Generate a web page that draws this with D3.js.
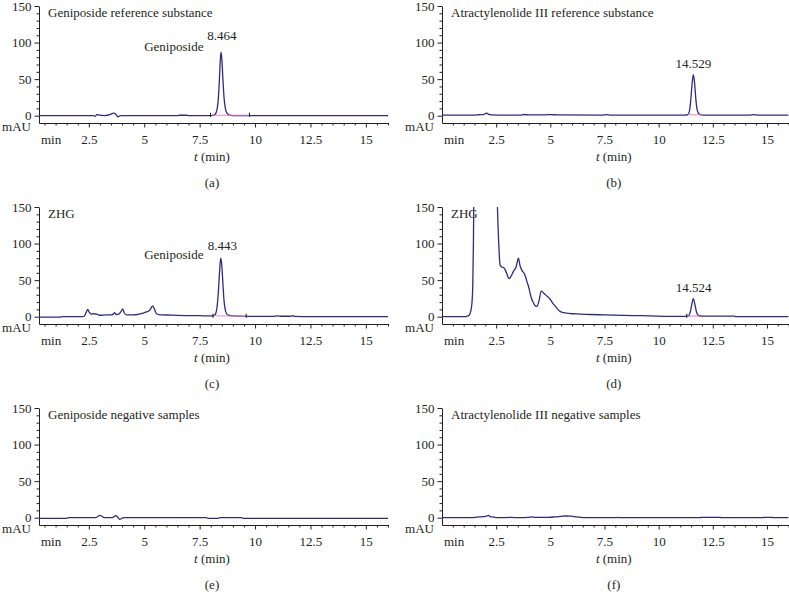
<!DOCTYPE html>
<html>
<head>
<meta charset="utf-8">
<script src="https://cdn.jsdelivr.net/npm/d3@7"></script>
<style>
body{margin:0;background:#fff;}
</style>
</head>
<body>
<script>
// chromatogram traces, [time (min), signal (mAU)]
var geniRef = [[0.25,0],[2.7,0],[2.78,-1],[2.86,1.5],[2.95,1.2],[3.05,0.3],[3.25,0.2],[3.45,1.5],[3.62,3.5],[3.72,2],[3.8,-1.5],[3.88,-0.5],[3.95,0],
  [6.5,0],[6.6,0.6],[6.9,0.6],[7.0,0],[7.9,0],[8.1,0.3],[8.2,2],[8.28,8],[8.34,22],[8.39,48],[8.43,75],[8.465,87],[8.5,78],[8.55,50],[8.6,25],
  [8.66,10],[8.72,4],[8.8,1.5],[8.9,0.5],[9.1,0.2],[9.7,0],[16,0]];

var atrRef = [[0,0.8],[1.5,0.8],[1.7,1.3],[1.9,1.5],[2.0,2.8],[2.07,3.5],[2.15,1.8],[2.3,1.2],[2.8,0.8],[3.6,0.9],[3.8,1.6],[4.0,1.0],[4.8,1.2],
  [5.0,1.5],[5.4,1.0],[7.4,0.9],[7.6,1.4],[7.8,0.9],[11.2,0.8],[11.35,1.5],[11.42,6],[11.48,20],[11.54,42],[11.6,56],[11.66,45],[11.72,22],
  [11.78,8],[11.85,3],[11.95,1.2],[12.2,0.8],[14.2,0.8],[14.4,1.5],[14.6,0.8],[16,0.7]];

var zhgGeni = [[0.25,-0.5],[1.2,-0.5],[1.3,0],[2.2,0.2],[2.3,1],[2.38,6],[2.45,10],[2.52,6],[2.6,3.5],[2.7,4],[2.85,3.5],[3.0,2],[3.3,2.5],
  [3.5,2.5],[3.6,3.5],[3.66,5.5],[3.72,3],[3.85,3.5],[3.95,7],[4.03,10.5],[4.1,5],[4.2,2.5],[4.5,2.5],[4.7,3],[4.9,4.6],[5.1,6.5],[5.25,9],
  [5.38,14.7],[5.45,11],[5.55,4],[5.7,2.5],[6.0,2.3],[6.5,1.8],[7.5,1.4],[8.0,1],[8.1,1.2],[8.2,3],[8.28,12],[8.34,32],[8.4,62],[8.45,80],
  [8.5,70],[8.55,45],[8.6,22],[8.66,9],[8.72,4],[8.8,2],[9.0,1],[9.6,0.5],[10.8,0.5],[11.0,1.2],[11.2,0.6],[11.6,0.6],[11.7,1.3],[11.8,0.5],
  [12.5,0],[16,0]];

var zhgAtr = [[0,0],[1.05,0],[1.14,0.5],[1.25,2],[1.33,8],[1.38,18],[1.42,42],[1.45,100],[1.48,200],[1.55,500],[1.6,900],[2.4,700],[2.5,250],
  [2.56,150],[2.62,100],[2.68,71],[2.76,68],[2.86,67],[2.95,62],[3.1,52],[3.2,56],[3.3,62],[3.42,68],[3.53,80],[3.6,70],[3.68,64],[3.83,57],
  [3.92,48],[3.99,42],[4.1,28],[4.2,20],[4.3,15],[4.38,14],[4.48,22],[4.58,35],[4.7,32],[4.81,29],[4.99,24],[5.1,19],[5.22,14.7],[5.35,10],
  [5.45,7.3],[5.6,5.5],[5.76,5],[6.0,4],[6.38,3.6],[6.84,3],[7.5,2.5],[8.38,1.8],[9.2,1.4],[9.92,0.9],[11.15,0.5],[11.35,0.8],[11.45,5],
  [11.52,15],[11.6,24.5],[11.68,16],[11.75,6],[11.85,1.5],[12,0.8],[13.5,0.7],[13.55,0],[16,0]];

var geniNeg = [[0.25,-0.9],[1.5,-0.9],[1.56,0],[2.8,0],[2.9,1.5],[3.0,3.2],[3.1,1.8],[3.2,0],[3.55,0],[3.65,1.8],[3.72,2.7],[3.8,1],[3.9,-2.3],
  [4.0,-0.6],[4.1,0],[7.8,0],[7.87,-0.9],[8.35,-0.9],[8.4,0],[9.4,0],[9.45,-0.9],[16,-0.9]];

var atrNeg = [[0,0],[1.4,0],[1.6,0.8],[1.9,1.4],[2.05,2],[2.14,3.2],[2.22,1.5],[2.35,1],[2.55,0],[3.2,0.3],[3.5,0],[4.0,0.5],[4.14,1],[4.3,0.4],
  [4.9,0.5],[5.2,1],[5.5,1.8],[5.7,2.3],[5.95,2],[6.2,1],[6.53,0],[8.0,0],[8.1,0.3],[8.2,0],[11.9,0],[12.0,0.5],[12.8,0.5],[12.9,0],
  [14.8,0],[14.9,0.5],[15.2,0.5],[15.3,0],[16,0]];

// integration baselines (pink) and start/end marks
var baseA = [[8.07,0.6],[9.74,0.6]];
var baseB = [[11.35,1.2],[12.0,1.2]];
var baseC = [[8.1,1.2],[9.6,0.6]];
var baseD = [[11.3,0.8],[11.92,0.8]];
var marksA = [7.99, 9.75];
var marksC = [8.1, 9.6];
var marksD = [11.3];

// peak annotations: [time, signal, text]
var labelsA = [[8.5,103,"8.464"]];
var labelsB = [[11.6,65,"14.529"]];
var labelsC = [[8.52,91,"8.443"]];
var labelsD = [[11.62,33.5,"14.524"]];
var nameA = [[7.67,88,"Geniposide"]];
var nameC = [[7.67,78.5,"Geniposide"]];

var titles = ["Geniposide reference substance","Atractylenolide III reference substance","ZHG","ZHG",
  "Geniposide negative samples","Atractylenolide III negative samples"];
var captions = ["(a)","(b)","(c)","(d)","(e)","(f)"];
var xMajor = [2.5,5,7.5,10,12.5,15];
var xMinor = d3.range(0.5,16.01,0.5).filter(function(d){return xMajor.indexOf(d)<0;});
var yMajor = [0,50,100,150];
var yMinor = d3.range(10,150,10).filter(function(d){return yMajor.indexOf(d)<0;});

var W = 789, H = 602;
var serif = "'Liberation Serif','DejaVu Serif',serif";
var cols = [{x0:39, x1:388, t0:0.25},{x0:442, x1:788.6, t0:0}];
var rowTop = [6, 207, 408];
var plotH = 117;
var lineColor = "#2e2b82", pink = "#e27ac0", ink = "#231f20";

var panels = [
  {data:geniRef, base:baseA, marks:marksA, labels:labelsA.concat(nameA), anchors:["middle","end"]},
  {data:atrRef, base:baseB, marks:[], labels:labelsB, anchors:["middle"]},
  {data:zhgGeni, base:baseC, marks:marksC, labels:labelsC.concat(nameC), anchors:["middle","end"]},
  {data:zhgAtr, base:baseD, marks:marksD, labels:labelsD, anchors:["middle"]},
  {data:geniNeg, base:null, marks:[], labels:[], anchors:[]},
  {data:atrNeg, base:null, marks:[], labels:[], anchors:[]}
];

var svg = d3.select("body").append("svg").attr("width",W).attr("height",H)
  .attr("font-family",serif).attr("font-size",13);
var defs = svg.append("defs");

panels.forEach(function(p,i){
  var c = cols[i%2], top = rowTop[Math.floor(i/2)], bottom = top+plotH;
  var x = d3.scaleLinear().domain([c.t0,16]).range([c.x0,c.x1]);
  var y = d3.scaleLinear().domain([-10,150]).range([bottom,top]);
  var g = svg.append("g");

  defs.append("clipPath").attr("id","clip"+i).append("rect")
    .attr("x",c.x0).attr("y",top).attr("width",c.x1-c.x0).attr("height",plotH);

  // x axis
  g.append("g").attr("transform","translate(0,"+bottom+")")
    .call(d3.axisBottom(x).tickValues(xMinor).tickSize(2.5).tickFormat(""))
    .call(function(s){s.select(".domain").remove();});
  g.append("g").attr("transform","translate(0,"+bottom+")")
    .call(d3.axisBottom(x).tickValues(xMajor).tickSize(4.5).tickSizeOuter(0).tickPadding(7).tickFormat(function(d){return d;}));
  // y axis
  g.append("g").attr("transform","translate("+c.x0+",0)")
    .call(d3.axisLeft(y).tickValues(yMinor).tickSize(2.5).tickFormat(""))
    .call(function(s){s.select(".domain").remove();});
  g.append("g").attr("transform","translate("+c.x0+",0)")
    .call(d3.axisLeft(y).tickValues(yMajor).tickSize(4.5).tickSizeOuter(0).tickPadding(3));
  g.selectAll("g").attr("font-family",serif).attr("font-size",13);
  g.selectAll(".tick line, .domain").attr("stroke",ink);
  g.selectAll(".tick text").attr("fill",ink);

  g.append("text").attr("x",c.x0-8).attr("y",y(0)+15.5).attr("text-anchor","end").attr("fill",ink).text("mAU");
  g.append("text").attr("x",c.x0+2).attr("y",bottom+21).attr("fill",ink).text("min");

  var cx = (c.x0+c.x1)/2-1.5;
  var at = g.append("text").attr("x",cx).attr("y",bottom+37.5).attr("text-anchor","middle").attr("fill",ink);
  at.append("tspan").attr("font-style","italic").text("t");
  at.append("tspan").text(" (min)");
  g.append("text").attr("x",cx).attr("y",bottom+63.5).attr("text-anchor","middle").attr("fill",ink).text(captions[i]);

  g.append("text").attr("x",c.x0+9).attr("y",top+10.5).attr("fill",ink).text(titles[i]);

  var plot = g.append("g").attr("clip-path","url(#clip"+i+")");
  var line = d3.line().x(function(d){return x(d[0]);}).y(function(d){return y(d[1]);}).curve(d3.curveMonotoneX);
  plot.append("path").datum(p.data).attr("d",line)
    .attr("fill","none").attr("stroke",lineColor).attr("stroke-width",1.3);
  if(p.base){
    plot.append("path").datum(p.base).attr("d",d3.line().x(function(d){return x(d[0]);}).y(function(d){return y(d[1]);}))
      .attr("fill","none").attr("stroke",pink).attr("stroke-width",1.1).attr("opacity",0.9);
  }
  plot.selectAll(".mark").data(p.marks).enter().append("line").attr("class","mark")
    .attr("x1",function(d){return x(d);}).attr("x2",function(d){return x(d);})
    .attr("y1",y(4)).attr("y2",y(-1.5)).attr("stroke","#111").attr("stroke-width",1);

  g.selectAll(".lab").data(p.labels).enter().append("text").attr("class","lab")
    .attr("x",function(d){return x(d[0]);}).attr("y",function(d){return y(d[1]);})
    .attr("text-anchor",function(d,k){return p.anchors[k];})
    .attr("fill",ink).text(function(d){return d[2];});
});
</script>
</body>
</html>
